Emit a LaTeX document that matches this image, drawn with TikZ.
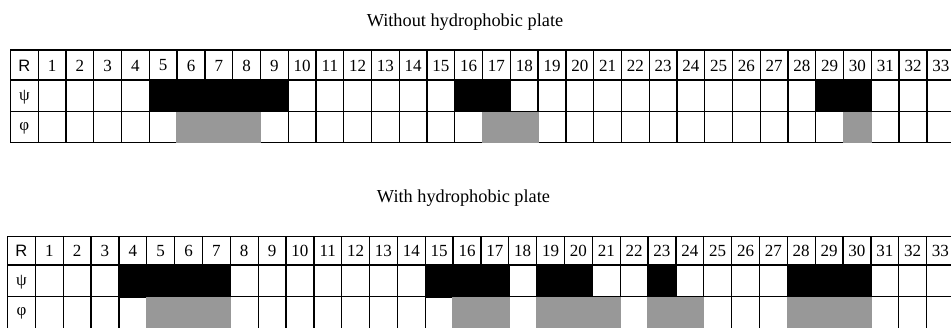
\documentclass[tikz,border=0pt]{standalone}
\usepackage{fontspec}
\setmainfont{Liberation Serif}
\newfontfamily\rfont{Liberation Sans}
\definecolor{phigray}{RGB}{152,152,152}
\begin{document}
\begin{tikzpicture}[x=1pt,y=-1pt,
  gridline/.style={line width=1.3pt, black, line cap=rect},
  numtext/.style={font=\fontsize{17}{17}\selectfont, inner sep=0pt},
  rtext/.style={font=\rfont\fontsize{16.5}{17}\selectfont, inner sep=0pt},
  titletext/.style={font=\fontsize{18.3}{20}\selectfont, inner sep=0pt, anchor=base},
  psifill/.style={fill=black},
  phifill/.style={fill=phigray}]
\useasboundingbox (0,0) rectangle (951,327);
\clip (0,0) rectangle (951,327);

% ---------- Table 1: without hydrophobic plate ----------
\node[titletext] (title1) at (465,26) {Without hydrophobic plate};
\def\xo{10.5}\def\cw{27.77}\def\ya{50}\def\yb{80}\def\yc{111.5}\def\yd{142.5}
\foreach \y in {\ya,\yb,\yc,\yd} \draw[gridline] (\xo,\y) -- (970,\y);
\foreach \i in {0,...,34} \draw[gridline] ({\xo+\i*\cw},\ya) -- ({\xo+\i*\cw},\yd);
\foreach \a/\b in {5/9,16/17,29/30}
  \fill[psifill] ({\xo+\a*\cw-0.7},{\yb-0.7}) rectangle ({\xo+(\b+1)*\cw+0.7},{\yc+0.7});
\foreach \a/\b in {6/8,17/18,30/30}
  \fill[phifill] ({\xo+\a*\cw-0.7},{\yc+0.65}) rectangle ({\xo+(\b+1)*\cw+0.7},{\yd+0.7});
\node[rtext] (aR) at ({\xo+0.5*\cw},{(\ya+\yb)/2+0.5}) {R};
\node[numtext] (apsi) at ({\xo+0.5*\cw},{(\yb+\yc)/2+1}) {ψ};
\node[numtext] (aphi) at ({\xo+0.5*\cw},{(\yc+\yd)/2+1}) {φ};
\foreach \i in {1,...,33}
  \node[numtext] (a\i) at ({\xo+(\i+0.5)*\cw},{(\ya+\yb)/2+0.5}) {\i};

% ---------- Table 2: with hydrophobic plate ----------
\node[titletext] (title2) at (463.5,202) {With hydrophobic plate};
\def\xo{7.5}\def\cw{27.85}\def\ya{236.5}\def\yb{265}\def\yc{296.8}\def\yd{328.5}
\foreach \y in {\ya,\yb,\yc,\yd} \draw[gridline] (\xo,\y) -- (970,\y);
\foreach \i in {0,...,34} \draw[gridline] ({\xo+\i*\cw},\ya) -- ({\xo+\i*\cw},\yd);
\foreach \a/\b in {4/7,15/17,19/20,23/23,28/30}
  \fill[psifill] ({\xo+\a*\cw-0.7},{\yb-0.7}) rectangle ({\xo+(\b+1)*\cw+0.7},{\yc+0.7});
\foreach \a/\b in {5/7,16/17,19/21,23/24,28/30}
  \fill[phifill] ({\xo+\a*\cw-0.7},{\yc+0.65}) rectangle ({\xo+(\b+1)*\cw+0.7},{\yd+0.7});
\node[rtext] (bR) at ({\xo+0.5*\cw},{(\ya+\yb)/2+0.5}) {R};
\node[numtext] (bpsi) at ({\xo+0.5*\cw},{(\yb+\yc)/2+1}) {ψ};
\node[numtext] (bphi) at ({\xo+0.5*\cw},{(\yc+\yd)/2+1}) {φ};
\foreach \i in {1,...,33}
  \node[numtext] (b\i) at ({\xo+(\i+0.5)*\cw},{(\ya+\yb)/2+0.5}) {\i};
\end{tikzpicture}
\end{document}
